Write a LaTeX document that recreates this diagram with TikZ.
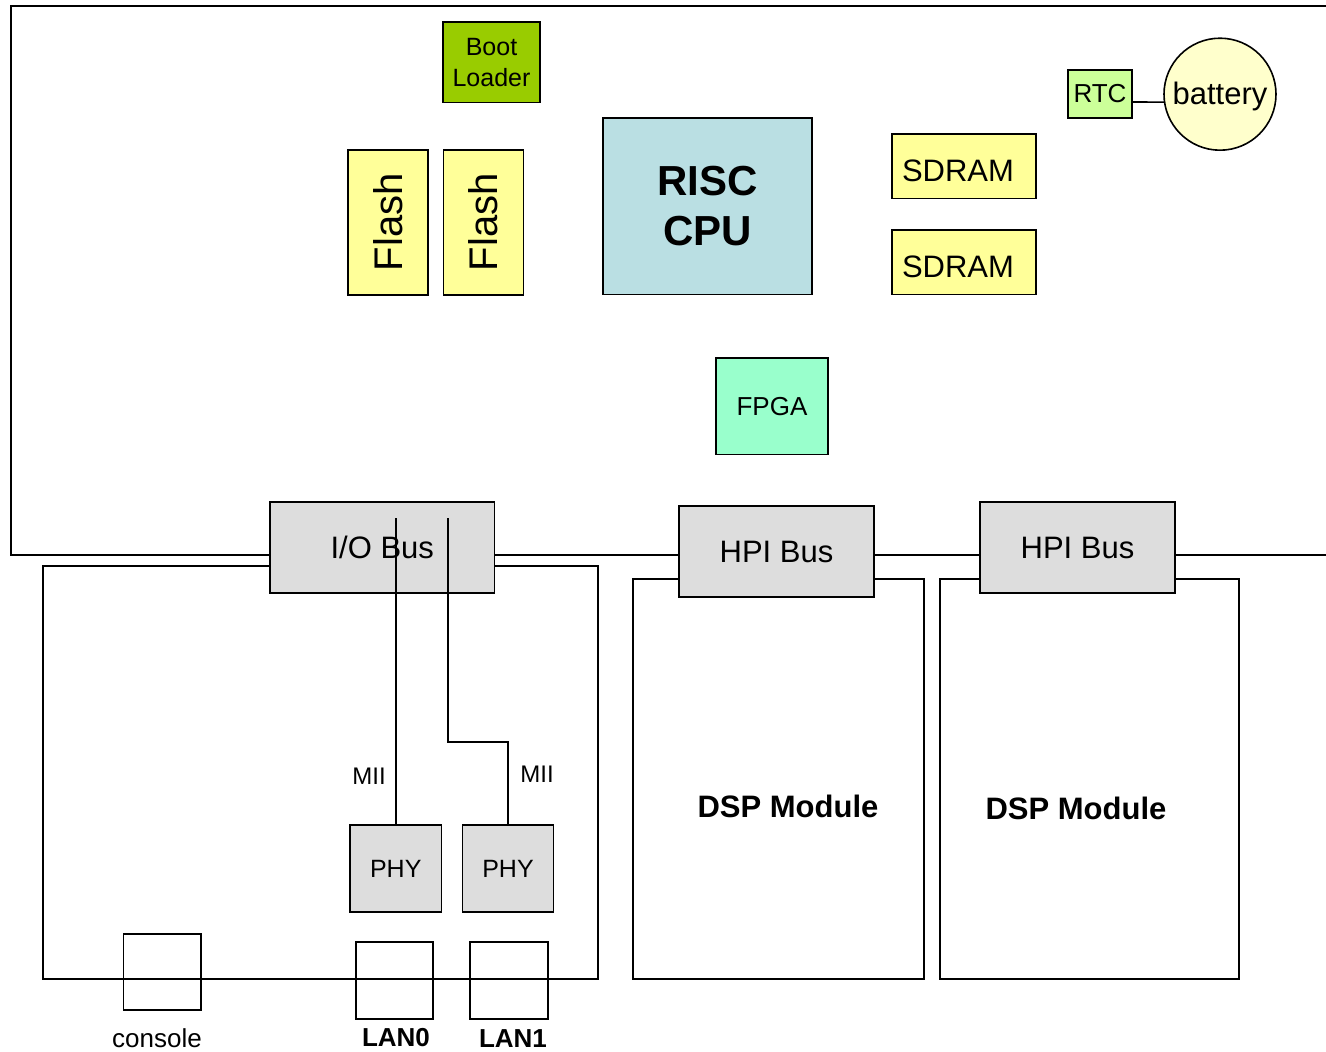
\documentclass[tikz,border=0pt]{standalone}
\usepackage{fontspec}
\usepackage{graphicx}
\usetikzlibrary{calc}
\setmainfont{Liberation Sans}
\newcommand\myfs[2]{\fontsize{#1}{#2}\selectfont}
\definecolor{bootc}{HTML}{99CC00}
\definecolor{flashc}{HTML}{FFFF99}
\definecolor{riscc}{HTML}{BADFE3}
\definecolor{rtcc}{HTML}{CCFF99}
\definecolor{battc}{HTML}{FFFFCC}
\definecolor{fpgac}{HTML}{99FFCC}
\definecolor{busc}{HTML}{DDDDDD}
\begin{document}
\begin{tikzpicture}[x=1pt,y=-1pt,line width=1.6pt,
  box/.style={draw,inner sep=0pt,align=center},
  sz/.style 2 args={minimum width=#1,minimum height=#2},
  txt/.style={inner sep=0pt,align=center}]
\useasboundingbox (0,0) rectangle (1326,1052);
% main board
\draw (1330,6) -- (11,6) -- (11,555) -- (1330,555);
% lower boards
\node[box,sz={555}{413}] (ioboard) at (320.5,772.5) {};
\node[box,sz={291}{400}] (dsp1) at (778.5,779) {};
\node[box,sz={299}{400}] (dsp2) at (1089.5,779) {};
% components
\node[box,fill=bootc,sz={97}{80.7},font=\myfs{25}{31}] (boot) at (491.5,62.3) {Boot\\Loader};
\node[box,fill=flashc,sz={80}{144.7},font=\myfs{40}{48}] (flash1) at (388,222.4) {\rotatebox{90}{Flash}};
\node[box,fill=flashc,sz={80}{144.7},font=\myfs{40}{48}] (flash2) at (483.5,222.4) {\rotatebox{90}{Flash}};
\node[box,fill=riscc,sz={209}{176.7},font=\myfs{42}{50}\bfseries] (risc) at (707.5,206.3) {RISC\\CPU};
\node[box,fill=flashc,sz={144}{64.7},font=\myfs{31}{37}] (sdram1) at (964,166.3) {\rule{0pt}{30pt}SDRAM\hspace{12pt}};
\node[box,fill=flashc,sz={144}{64.7},font=\myfs{31}{37}] (sdram2) at (964,262.3) {\rule{0pt}{30pt}SDRAM\hspace{12pt}};
\node[box,fill=rtcc,sz={64}{48},font=\myfs{26}{31}] (rtc) at (1100,94) {RTC};
\node[box,circle,fill=battc,minimum size=112,font=\myfs{31}{37}] (battery) at (1220,94.2) {\rule{0pt}{28pt}battery};
\node[box,fill=fpgac,sz={112}{96.7},font=\myfs{26}{31}] (fpga) at (772,406.3) {FPGA};
\draw ($(rtc.east)+(0,8)$) -- (battery.188);
% buses
\node[box,fill=busc,sz={224.6}{91},font=\myfs{31}{37}] (iobus) at (382.3,547.5) {I/O Bus};
\node[box,fill=busc,sz={195}{91},font=\myfs{31}{37}] (hpi1) at (776.5,551.5) {HPI Bus};
\node[box,fill=busc,sz={195}{91},font=\myfs{31}{37}] (hpi2) at (1077.5,547.5) {HPI Bus};
% PHYs
\node[box,fill=busc,sz={91.5}{87},font=\myfs{25}{30}] (phy1) at (395.75,868.5) {PHY};
\node[box,fill=busc,sz={91}{87},font=\myfs{25}{30}] (phy2) at (508,868.5) {PHY};
% connectors
\coordinate (m1) at (395.75,518);
\coordinate (m2) at (447.8,518);
\coordinate (bend) at (508,741.7);
\draw (m1) -- (phy1.north);
\draw (m2) |- (bend) -- (phy2.north);
\node[txt,font=\myfs{24}{29}] (mii1) at (369,776) {MII};
\node[txt,font=\myfs{24}{29}] (mii2) at (537,774) {MII};
% ports
\node[box,sz={77.3}{76}] (console) at (162.3,972) {};
\node[box,sz={77}{77}] (lan0) at (394.5,980.5) {};
\node[box,sz={78}{77}] (lan1) at (509,980.5) {};
\node[txt,font=\myfs{26}{31}] (consolelbl) at (157,1038) {console};
\node[txt,font=\myfs{26}{31}\bfseries] (lan0lbl) at (396,1038) {LAN0};
\node[txt,font=\myfs{26}{31}\bfseries] (lan1lbl) at (513,1039) {LAN1};
% DSP labels
\node[txt,font=\myfs{31}{37}\bfseries] (dsp1lbl) at (788,806) {DSP Module};
\node[txt,font=\myfs{31}{37}\bfseries] (dsp2lbl) at (1076,808) {DSP Module};
\end{tikzpicture}
\end{document}
